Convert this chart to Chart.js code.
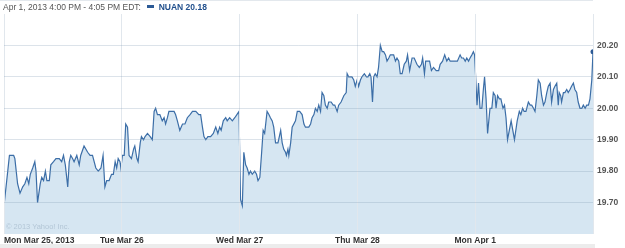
<!DOCTYPE html>
<html>
<head>
<meta charset="utf-8">
<script src="https://cdn.jsdelivr.net/npm/chart.js@4"></script>
<style>
  body { margin: 0; background: #fff; }
  #wrap { position: relative; width: 625px; height: 248px; font-family: 'Liberation Sans', Arial, sans-serif; }
  #chart { position: absolute; left: 0; top: 0; }
  #head { position: absolute; left: 0; top: 0; width: 593px; height: 13px; border-top: 1px solid #e3e8ed;
          font-size: 8.5px; line-height: 12px; color: #555; padding-left: 3px; box-sizing: border-box; white-space: nowrap; }
  #head .sw { display: inline-block; width: 7px; height: 3px; background: #2c5a96; vertical-align: 2px; margin: 0 2px 0 4px; }
  #head b { color: #1f4e8c; }
  #copy { position: absolute; left: 6px; top: 222px; font-size: 7.5px; color: #b3c6d6; }
  #band { position: absolute; left: 0; top: 244px; width: 595px; height: 4px; background: #ececec; }
</style>
</head>
<body>
<div id="wrap">
  <canvas id="chart" width="625" height="248"></canvas>
  <div id="head">Apr 1, 2013 4:00 PM - 4:05 PM EDT: <span class="sw"></span> <b>NUAN 20.18</b></div>
  <div id="copy">© 2013 Yahoo! Inc.</div>
  <div id="band"></div>
</div>
<script>
// minutes since Mon Mar 25 open, counting trading sessions only (390 per day)
const times = [
    // Mon Mar 25
    0, 18, 23, 32, 36, 45, 53, 62, 69, 76, 82, 87, 95, 102, 106, 111, 120, 125, 131, 137, 142, 150, 155, 164, 172,
    183, 191, 197, 203, 211, 216, 221, 227, 232, 241, 249, 254, 265, 277, 285, 293, 304, 312, 321, 328, 334, 340,
    348, 356, 362, 368, 373, 378, 384, 387,
    // Tue Mar 26
    392, 398, 403, 409, 414, 422, 429, 433, 440, 444, 451, 455, 462, 467, 475, 484, 491, 497, 502, 508, 516, 524,
    530, 535, 541, 546, 554, 563, 568, 574, 582, 591, 599, 607, 616, 624, 635, 645, 651, 657, 662, 668, 675, 684,
    693, 701, 708, 714, 719, 726, 734, 739, 747, 756, 764, 771, 778,
    // Wed Mar 27
    783, 789, 794, 800, 805, 811, 816, 822, 830, 836, 841, 847, 853, 858, 863, 871, 877, 882, 888, 893, 899, 907,
    916, 921, 926, 932, 935, 940, 943, 949, 954, 965, 971, 979, 987, 993, 998, 1004, 1009, 1015, 1020, 1026, 1031,
    1037, 1042, 1048, 1053, 1059, 1064, 1070, 1075, 1083, 1090, 1095, 1103, 1108, 1116, 1125, 1133, 1136, 1141,
    1147, 1152, 1158, 1163, 1169,
    // Thu Mar 28
    1174, 1180, 1185, 1193, 1200, 1205, 1211, 1215, 1220, 1224, 1229, 1235, 1240, 1246, 1252, 1257, 1263, 1268,
    1274, 1279, 1285, 1290, 1296, 1301, 1307, 1312, 1318, 1325, 1332, 1336, 1343, 1351, 1358, 1367, 1375, 1382,
    1386, 1392, 1396, 1403, 1409, 1415, 1422, 1431, 1439, 1444, 1452, 1459, 1466, 1472, 1477, 1483, 1488, 1494,
    1501, 1510, 1515, 1521, 1527, 1532, 1538, 1543, 1549, 1554, 1558,
    // Mon Apr 1
    1566, 1571, 1576, 1582, 1587, 1591, 1596, 1601, 1609, 1615, 1620, 1626, 1629, 1634, 1640, 1645, 1652, 1657,
    1662, 1667, 1679, 1690, 1699, 1706, 1711, 1717, 1722, 1728, 1736, 1742, 1747, 1753, 1758, 1764, 1769, 1775,
    1780, 1786, 1791, 1797, 1802, 1808, 1813, 1819, 1824, 1830, 1835, 1838, 1843, 1846, 1852, 1857, 1863, 1868,
    1874, 1879, 1885, 1890, 1896, 1901, 1907, 1913, 1918, 1924, 1929, 1935, 1940, 1946, 1950
];

const prices = [
    // Mon Mar 25
    19.69, 19.85, 19.85, 19.85, 19.84, 19.76, 19.73, 19.75, 19.76, 19.78, 19.76, 19.79, 19.81, 19.83, 19.80, 19.70,
    19.76, 19.78, 19.77, 19.80, 19.77, 19.77, 19.82, 19.83, 19.84, 19.84, 19.83, 19.85, 19.82, 19.75, 19.83, 19.85,
    19.84, 19.83, 19.85, 19.82, 19.85, 19.88, 19.86, 19.85, 19.85, 19.81, 19.80, 19.81, 19.85, 19.75, 19.77, 19.77,
    19.79, 19.79, 19.83, 19.81, 19.84, 19.83, 19.81,
    // Tue Mar 26
    19.85, 19.85, 19.95, 19.94, 19.85, 19.84, 19.87, 19.88, 19.84, 19.83, 19.89, 19.91, 19.90, 19.91, 19.92, 19.91,
    19.90, 19.99, 20.00, 19.98, 19.98, 19.96, 19.97, 19.95, 19.97, 19.99, 19.99, 19.99, 19.98, 19.96, 19.93, 19.95,
    19.95, 19.97, 19.98, 19.99, 19.99, 19.98, 19.98, 19.94, 19.91, 19.90, 19.91, 19.91, 19.92, 19.94, 19.92, 19.94,
    19.93, 19.96, 19.97, 19.96, 19.97, 19.96, 19.97, 19.98, 19.99,
    // Wed Mar 27
    19.71, 19.69, 19.86, 19.82, 19.81, 19.79, 19.80, 19.79, 19.80, 19.79, 19.77, 19.78, 19.86, 19.93, 19.92, 19.99,
    19.98, 19.97, 19.96, 19.94, 19.89, 19.89, 19.93, 19.89, 19.87, 19.86, 19.85, 19.87, 19.85, 19.89, 19.94, 19.96,
    19.99, 19.99, 19.98, 19.95, 19.94, 19.94, 19.94, 19.95, 19.97, 19.98, 20.00, 19.99, 20.01, 19.99, 20.05, 20.04,
    20.01, 20.00, 20.02, 20.02, 20.01, 20.01, 19.99, 20.01, 20.02, 20.04, 20.05, 20.11, 20.10, 20.10, 20.10, 20.09,
    20.07, 20.09,
    // Thu Mar 28
    20.07, 20.09, 20.10, 20.11, 20.10, 20.10, 20.11, 20.10, 20.02, 20.10, 20.11, 20.10, 20.13, 20.20, 20.18, 20.18,
    20.17, 20.15, 20.16, 20.17, 20.17, 20.17, 20.15, 20.16, 20.15, 20.11, 20.11, 20.14, 20.15, 20.17, 20.12, 20.16,
    20.16, 20.14, 20.13, 20.14, 20.16, 20.11, 20.15, 20.15, 20.15, 20.12, 20.13, 20.12, 20.12, 20.14, 20.15, 20.17,
    20.15, 20.16, 20.15, 20.15, 20.15, 20.15, 20.15, 20.17, 20.16, 20.16, 20.15, 20.16, 20.15, 20.16, 20.17, 20.18,
    20.17,
    // Mon Apr 1
    20.01, 20.08, 20.00, 20.00, 20.06, 20.10, 20.03, 19.92, 20.00, 20.00, 20.05, 20.04, 20.00, 20.04, 20.03, 20.03,
    20.00, 20.01, 19.97, 19.90, 19.96, 19.90, 19.96, 19.99, 19.98, 20.00, 19.99, 19.99, 20.02, 20.01, 20.01, 20.00,
    19.99, 20.04, 20.09, 20.08, 20.04, 20.01, 20.02, 20.05, 20.07, 20.08, 20.02, 20.06, 20.07, 20.08, 20.01, 20.05,
    20.04, 20.02, 20.05, 20.05, 20.06, 20.05, 20.06, 20.07, 20.08, 20.06, 20.05, 20.02, 20.00, 20.00, 20.01, 20.00,
    20.01, 20.01, 20.03, 20.09, 20.18
];

const dayTicks = [0, 390, 780, 1170, 1560, 1950];
const dayLabels = ['Mon Mar 25, 2013', 'Tue Mar 26', 'Wed Mar 27', 'Thu Mar 28', 'Mon Apr 1', ''];
const yTicks = [19.7, 19.8, 19.9, 20.0, 20.1, 20.2];

const tickFont = { family: "'Liberation Sans', Arial, sans-serif", size: 8.5, weight: 'bold' };

new Chart(document.getElementById('chart'), {
    type: 'line',
    data: {
        datasets: [{
            data: times.map((t, i) => ({ x: t, y: prices[i] })),
            borderColor: '#3c6ea7',
            borderWidth: 1.2,
            backgroundColor: '#d6e6f2',
            fill: 'start',
            tension: 0,
            pointRadius: c => c.dataIndex === prices.length - 1 ? 2.5 : 0,
            pointBackgroundColor: '#2c5a96',
            pointBorderWidth: 0
        }]
    },
    options: {
        responsive: false,
        animation: false,
        layout: { padding: { left: 3, top: 14, right: 0, bottom: 0 } },
        plugins: { legend: { display: false }, tooltip: { enabled: false } },
        scales: {
            x: {
                type: 'linear',
                min: 0,
                max: 1950,
                afterBuildTicks: s => { s.ticks = dayTicks.map(v => ({ value: v })); },
                afterFit: s => { s.height = 14; },
                ticks: {
                    autoSkip: false,
                    maxRotation: 0,
                    align: 'inner',
                    padding: 2,
                    color: '#333',
                    font: tickFont,
                    callback: (v, i) => dayLabels[i]
                },
                grid: { color: '#e1e7ed', drawTicks: false, z: 1 },
                border: { display: false }
            },
            y: {
                position: 'right',
                min: 19.6,
                max: 20.3,
                afterBuildTicks: s => { s.ticks = yTicks.map(v => ({ value: v })); },
                afterFit: s => { s.width = 32; },
                ticks: {
                    padding: 4,
                    color: '#555',
                    font: tickFont,
                    callback: v => v.toFixed(2)
                },
                grid: { color: 'rgba(130,155,180,0.28)', drawTicks: false, z: 1 },
                border: { display: false }
            }
        }
    }
});
</script>
</body>
</html>
